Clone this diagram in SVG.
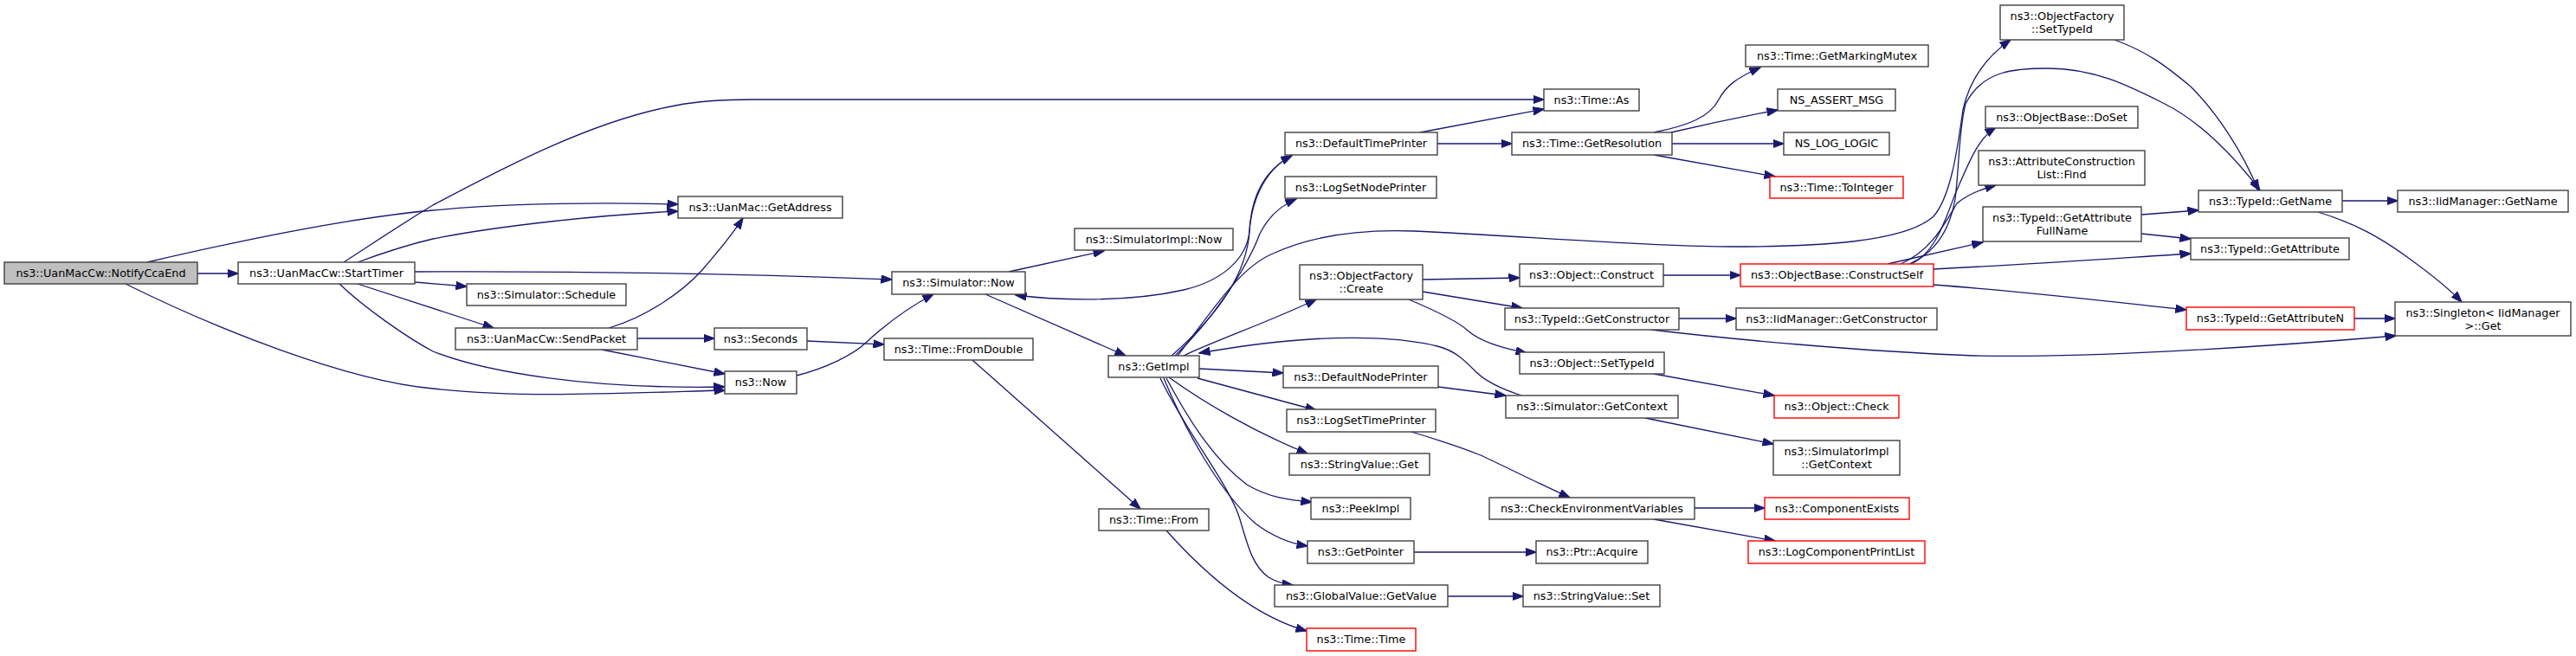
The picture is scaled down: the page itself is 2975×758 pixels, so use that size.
<svg xmlns="http://www.w3.org/2000/svg" width="2975" height="758" viewBox="0 0 2975 758">
<style>
.n rect{fill:#fff;stroke:#404040;stroke-width:1.4}
.n.root rect{fill:#bfbfbf}
.n.red rect{stroke:#ff0000}
.n text{font-family:"DejaVu Sans","Liberation Sans",sans-serif;font-size:12.8px;text-anchor:middle;fill:#000}
#edges path{fill:none;stroke:#191970;stroke-width:1.3;marker-end:url(#a)}
</style>
<defs>
<marker id="a" markerWidth="14" markerHeight="10" refX="12.5" refY="5" orient="auto" markerUnits="userSpaceOnUse">
<path d="M0,0.3 L13,5 L0,9.7 z" fill="#191970" stroke="#191970" stroke-width="1"/>
</marker>
</defs>
<rect width="2975" height="758" fill="#fff"/>
<g id="edges">
<path d="M228,316 L275,316"/>
<path d="M170,303 C260,282 400,252 500,243 C600,234 700,234 783,236"/>
<path d="M413,303 C440,293 470,283 500,276 C580,260 700,248 783,244"/>
<path d="M397,303 C440,275 470,255 500,237 C570,200 680,140 780,122 C800,118 830,115 867,115 L1783,115"/>
<path d="M479,314 C700,313 900,318 1030,323"/>
<path d="M479,326 L539,331"/>
<path d="M413,328 L570,379"/>
<path d="M392,328 C420,355 470,390 500,406 C560,430 680,450 837,447"/>
<path d="M145,328 C250,380 400,440 500,449 C600,460 700,455 837,451"/>
<path d="M703,379 C750,365 790,335 810,313 C830,290 845,272 858,252"/>
<path d="M736,391 L825,391"/>
<path d="M695,404 L837,432"/>
<path d="M932,394 L1021,398"/>
<path d="M920,434 C955,425 985,410 1000,396 C1015,382 1040,360 1078,340"/>
<path d="M1123,416 L1317,588"/>
<path d="M1347,613 C1380,650 1440,710 1509,729"/>
<path d="M1165,314 L1275,290"/>
<path d="M1138,340 L1300,411"/>
<path d="M1492,179 C1455,200 1445,240 1443,267 C1440,300 1410,325 1367,335 C1300,350 1220,347 1173,341"/>
<path d="M1353,411 C1400,370 1440,320 1443,267 C1445,225 1462,195 1492,180"/>
<path d="M1357,411 C1400,370 1440,310 1455,270 C1465,250 1480,237 1497,230"/>
<path d="M1367,411 C1400,395 1470,370 1520,346"/>
<path d="M1360,411 C1400,360 1430,310 1470,293 C1520,270 1580,265 1633,267 C1750,272 1900,285 2000,285 C2100,285 2200,280 2233,250 C2255,225 2262,160 2267,127 C2275,90 2295,65 2322,46"/>
<path d="M2205,305 C2235,292 2252,265 2258,230 C2263,190 2262,150 2270,120 C2290,80 2330,79 2365,79 C2420,79 2460,100 2500,120 C2540,140 2580,180 2610,220"/>
<path d="M2207,305 C2240,290 2250,240 2262,215 C2275,185 2285,160 2305,147"/>
<path d="M2195,305 C2230,290 2245,260 2260,235 C2272,225 2290,218 2305,214"/>
<path d="M2180,305 L2290,280"/>
<path d="M2233,311 C2350,305 2450,298 2530,293"/>
<path d="M2233,329 C2350,338 2450,350 2525,358"/>
<path d="M2473,248 L2539,243"/>
<path d="M2473,270 L2530,276"/>
<path d="M2705,232 L2769,232"/>
<path d="M2677,245 C2720,258 2750,275 2780,297 C2805,315 2825,330 2843,349"/>
<path d="M2719,368 L2766,368"/>
<path d="M2442,46 C2480,60 2500,75 2530,100 C2560,130 2590,175 2608,220"/>
<path d="M1640,153 L1783,126"/>
<path d="M1660,166 L1746,166"/>
<path d="M1910,153 C1950,145 1975,135 1985,115 C1993,100 2005,90 2033,78"/>
<path d="M1930,153 C1960,146 2000,137 2053,127"/>
<path d="M1931,166 L2060,166"/>
<path d="M1910,179 L2050,204"/>
<path d="M1643,323 L1755,321"/>
<path d="M1643,337 L1758,356"/>
<path d="M1627,346 C1660,360 1685,372 1695,382 C1710,395 1735,402 1763,408"/>
<path d="M1921,318 L2010,318"/>
<path d="M1939,368 L2005,368"/>
<path d="M1907,381 C2000,392 2150,406 2280,411 C2400,414 2600,402 2767,388"/>
<path d="M1910,432 L2049,457"/>
<path d="M1900,483 L2048,513"/>
<path d="M1757,457 C1730,448 1715,440 1705,430 C1690,415 1680,405 1660,400 C1620,390 1560,388 1500,393 C1460,396 1420,402 1385,408"/>
<path d="M1661,447 L1739,457"/>
<path d="M1385,426 L1482,431"/>
<path d="M1383,437 L1520,474"/>
<path d="M1350,436 C1390,465 1450,500 1510,524"/>
<path d="M1347,437 C1370,480 1400,530 1440,560 C1465,575 1490,578 1515,580"/>
<path d="M1344,437 C1370,500 1410,570 1450,605 C1470,620 1490,628 1510,631"/>
<path d="M1340,437 C1370,500 1420,560 1432,600 C1442,635 1448,655 1465,667 C1475,673 1485,675 1493,676"/>
<path d="M1630,499 C1660,508 1690,518 1710,526 C1740,540 1780,560 1813,575"/>
<path d="M1633,638 L1774,638"/>
<path d="M1672,689 L1759,689"/>
<path d="M1957,587 L2038,587"/>
<path d="M1910,600 L2050,625"/>
</g>
<g id="n1" class="n root"><rect x="5" y="303" width="223" height="25"/><text x="116.5" y="320">ns3::UanMacCw::NotifyCcaEnd</text></g>
<g id="n2" class="n"><rect x="275" y="303" width="204" height="25"/><text x="377" y="320">ns3::UanMacCw::StartTimer</text></g>
<g id="n3" class="n"><rect x="783" y="227" width="190" height="25"/><text x="878" y="244">ns3::UanMac::GetAddress</text></g>
<g id="n4" class="n"><rect x="539" y="328" width="184" height="25"/><text x="631" y="345">ns3::Simulator::Schedule</text></g>
<g id="n5" class="n"><rect x="526" y="379" width="210" height="25"/><text x="631" y="396">ns3::UanMacCw::SendPacket</text></g>
<g id="n6" class="n"><rect x="825" y="379" width="107" height="25"/><text x="878.5" y="396">ns3::Seconds</text></g>
<g id="n7" class="n"><rect x="837" y="429" width="83" height="26"/><text x="878.5" y="446">ns3::Now</text></g>
<g id="n8" class="n"><rect x="1030" y="314" width="154" height="26"/><text x="1107" y="331">ns3::Simulator::Now</text></g>
<g id="n9" class="n"><rect x="1241" y="264" width="183" height="25"/><text x="1332.5" y="281">ns3::SimulatorImpl::Now</text></g>
<g id="n10" class="n"><rect x="1021" y="391" width="172" height="25"/><text x="1107" y="408">ns3::Time::FromDouble</text></g>
<g id="n11" class="n"><rect x="1280" y="411" width="105" height="25"/><text x="1332.5" y="428">ns3::GetImpl</text></g>
<g id="n12" class="n"><rect x="1269" y="588" width="127" height="25"/><text x="1332.5" y="605">ns3::Time::From</text></g>
<g id="n13" class="n"><rect x="1484" y="153" width="176" height="26"/><text x="1572" y="170">ns3::DefaultTimePrinter</text></g>
<g id="n14" class="n"><rect x="1484" y="204" width="175" height="25"/><text x="1571.5" y="221">ns3::LogSetNodePrinter</text></g>
<g id="n15" class="n"><rect x="1501" y="306" width="142" height="40"/><text x="1572" y="323">ns3::ObjectFactory</text><text x="1572" y="338">::Create</text></g>
<g id="n16" class="n"><rect x="1482" y="423" width="179" height="25"/><text x="1571.5" y="440">ns3::DefaultNodePrinter</text></g>
<g id="n17" class="n"><rect x="1486" y="473" width="172" height="26"/><text x="1572" y="490">ns3::LogSetTimePrinter</text></g>
<g id="n18" class="n"><rect x="1489" y="524" width="162" height="25"/><text x="1570" y="541">ns3::StringValue::Get</text></g>
<g id="n19" class="n"><rect x="1514" y="575" width="115" height="25"/><text x="1571.5" y="592">ns3::PeekImpl</text></g>
<g id="n20" class="n"><rect x="1510" y="625" width="123" height="26"/><text x="1571.5" y="642">ns3::GetPointer</text></g>
<g id="n21" class="n"><rect x="1472" y="676" width="200" height="25"/><text x="1572" y="693">ns3::GlobalValue::GetValue</text></g>
<g id="n22" class="n red"><rect x="1509" y="726" width="126" height="26"/><text x="1572" y="743">ns3::Time::Time</text></g>
<g id="n23" class="n"><rect x="1783" y="103" width="110" height="25"/><text x="1838" y="120">ns3::Time::As</text></g>
<g id="n24" class="n"><rect x="1746" y="153" width="185" height="26"/><text x="1838.5" y="170">ns3::Time::GetResolution</text></g>
<g id="n25" class="n"><rect x="1755" y="305" width="166" height="26"/><text x="1838" y="322">ns3::Object::Construct</text></g>
<g id="n26" class="n"><rect x="1738" y="356" width="201" height="25"/><text x="1838.5" y="373">ns3::TypeId::GetConstructor</text></g>
<g id="n27" class="n"><rect x="1755" y="407" width="167" height="25"/><text x="1838.5" y="424">ns3::Object::SetTypeId</text></g>
<g id="n28" class="n"><rect x="1739" y="457" width="199" height="26"/><text x="1838.5" y="474">ns3::Simulator::GetContext</text></g>
<g id="n29" class="n"><rect x="1720" y="575" width="237" height="25"/><text x="1838.5" y="592">ns3::CheckEnvironmentVariables</text></g>
<g id="n30" class="n"><rect x="1774" y="625" width="129" height="26"/><text x="1838.5" y="642">ns3::Ptr::Acquire</text></g>
<g id="n31" class="n"><rect x="1759" y="676" width="158" height="25"/><text x="1838" y="693">ns3::StringValue::Set</text></g>
<g id="n32" class="n"><rect x="2310" y="6" width="143" height="40"/><text x="2381.5" y="23">ns3::ObjectFactory</text><text x="2381.5" y="38">::SetTypeId</text></g>
<g id="n33" class="n"><rect x="2016" y="52" width="211" height="25"/><text x="2121.5" y="69">ns3::Time::GetMarkingMutex</text></g>
<g id="n34" class="n"><rect x="2053" y="103" width="136" height="25"/><text x="2121" y="120">NS_ASSERT_MSG</text></g>
<g id="n35" class="n"><rect x="2060" y="153" width="122" height="26"/><text x="2121" y="170">NS_LOG_LOGIC</text></g>
<g id="n36" class="n red"><rect x="2044" y="204" width="154" height="25"/><text x="2121" y="221">ns3::Time::ToInteger</text></g>
<g id="n37" class="n"><rect x="2293" y="123" width="176" height="25"/><text x="2381" y="140">ns3::ObjectBase::DoSet</text></g>
<g id="n38" class="n"><rect x="2285" y="174" width="192" height="40"/><text x="2381" y="191">ns3::AttributeConstruction</text><text x="2381" y="206">List::Find</text></g>
<g id="n39" class="n"><rect x="2290" y="239" width="183" height="40"/><text x="2381.5" y="256">ns3::TypeId::GetAttribute</text><text x="2381.5" y="271">FullName</text></g>
<g id="n40" class="n red"><rect x="2010" y="305" width="223" height="26"/><text x="2121.5" y="322">ns3::ObjectBase::ConstructSelf</text></g>
<g id="n41" class="n"><rect x="2005" y="356" width="232" height="25"/><text x="2121" y="373">ns3::IidManager::GetConstructor</text></g>
<g id="n42" class="n red"><rect x="2049" y="457" width="144" height="26"/><text x="2121" y="474">ns3::Object::Check</text></g>
<g id="n43" class="n"><rect x="2048" y="509" width="146" height="40"/><text x="2121" y="526">ns3::SimulatorImpl</text><text x="2121" y="541">::GetContext</text></g>
<g id="n44" class="n red"><rect x="2038" y="575" width="167" height="25"/><text x="2121.5" y="592">ns3::ComponentExists</text></g>
<g id="n45" class="n red"><rect x="2019" y="625" width="204" height="26"/><text x="2121" y="642">ns3::LogComponentPrintList</text></g>
<g id="n46" class="n"><rect x="2539" y="220" width="166" height="25"/><text x="2622" y="237">ns3::TypeId::GetName</text></g>
<g id="n47" class="n"><rect x="2769" y="220" width="197" height="25"/><text x="2867.5" y="237">ns3::IidManager::GetName</text></g>
<g id="n48" class="n"><rect x="2530" y="275" width="183" height="25"/><text x="2621.5" y="292">ns3::TypeId::GetAttribute</text></g>
<g id="n49" class="n red"><rect x="2525" y="355" width="194" height="26"/><text x="2622" y="372">ns3::TypeId::GetAttributeN</text></g>
<g id="n50" class="n"><rect x="2766" y="349" width="203" height="39"/><text x="2867.5" y="366">ns3::Singleton&lt; IidManager</text><text x="2867.5" y="381">&gt;::Get</text></g>
</svg>
